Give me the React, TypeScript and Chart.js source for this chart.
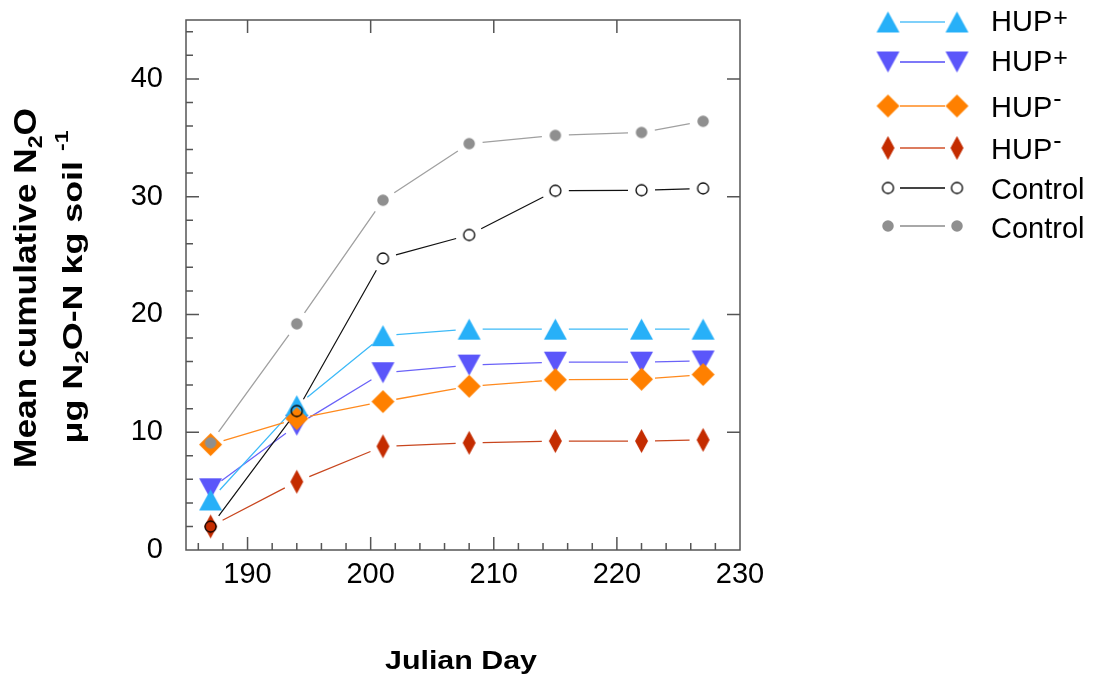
import React, { useEffect, useRef } from 'react';
import { Chart, registerables } from 'chart.js';

Chart.register(...registerables);

// ---------- data ----------
const days = [187, 194, 201, 208, 215, 222, 227];
const hupPlusUp = [4.25, 12.25, 18.2, 18.75, 18.75, 18.75, 18.75];
const hupPlusDown = [5.2, 10.6, 15.05, 15.7, 15.95, 15.95, 16.05];
const hupMinusOrange = [8.95, 11.15, 12.6, 13.9, 14.45, 14.5, 14.9];
const hupMinusRed = [2.0, 5.8, 8.8, 9.1, 9.25, 9.25, 9.35];
const controlOpen = [1.98, 11.8, 24.75, 26.75, 30.5, 30.55, 30.7];
const controlGray = [9.1, 19.2, 29.7, 34.5, 35.2, 35.45, 36.4];

const xTickValues = [190, 200, 210, 220, 230];
const yTickValues = [0, 10, 20, 30, 40];

const legendTexts = ['HUP', 'HUP', 'HUP', 'HUP', 'Control', 'Control'];
const legendSups = ['+', '+', '-', '-', '', ''];

const FONT = '"Liberation Sans", Arial, Helvetica, sans-serif';

type Shape = 'triUp' | 'triDown' | 'diamond' | 'circle';

function makeMarker(shape: Shape, w: number, h: number, fill: string | null, stroke: string | null, lw = 1): HTMLCanvasElement {
  const pad = 3;
  const c = document.createElement('canvas');
  c.width = Math.ceil(w + pad * 2);
  c.height = Math.ceil(h + pad * 2);
  const ctx = c.getContext('2d')!;
  const cx = c.width / 2;
  const cy = c.height / 2;
  ctx.beginPath();
  if (shape === 'triUp') {
    ctx.moveTo(cx, cy - h / 2);
    ctx.lineTo(cx + w / 2, cy + h / 2);
    ctx.lineTo(cx - w / 2, cy + h / 2);
    ctx.closePath();
  } else if (shape === 'triDown') {
    ctx.moveTo(cx - w / 2, cy - h / 2);
    ctx.lineTo(cx + w / 2, cy - h / 2);
    ctx.lineTo(cx, cy + h / 2);
    ctx.closePath();
  } else if (shape === 'diamond') {
    ctx.moveTo(cx, cy - h / 2);
    ctx.lineTo(cx + w / 2, cy);
    ctx.lineTo(cx, cy + h / 2);
    ctx.lineTo(cx - w / 2, cy);
    ctx.closePath();
  } else {
    ctx.arc(cx, cy, w / 2, 0, Math.PI * 2);
  }
  if (fill) {
    ctx.fillStyle = fill;
    ctx.fill();
  }
  if (stroke) {
    ctx.strokeStyle = stroke;
    ctx.lineWidth = lw;
    ctx.stroke();
  }
  return c;
}

interface SeriesStyle {
  values: number[];
  marker: HTMLCanvasElement;
  lineColor: string;
  lineWidth: number;
  order: number;
  legendLine: string;
  legendLineWidth: number;
}

type Part = { text: string; size: number; dy?: number; bold?: boolean };

function drawRich(ctx: CanvasRenderingContext2D, parts: Part[], targetLen: number | null) {
  let natural = 0;
  for (const p of parts) {
    ctx.font = `${p.bold ? 'bold ' : ''}${p.size}px ${FONT}`;
    natural += ctx.measureText(p.text).width;
  }
  const sx = targetLen ? targetLen / natural : 1;
  ctx.scale(sx, 1);
  let x = -natural / 2;
  ctx.textBaseline = 'alphabetic';
  ctx.textAlign = 'left';
  for (const p of parts) {
    ctx.font = `${p.bold ? 'bold ' : ''}${p.size}px ${FONT}`;
    ctx.fillText(p.text, x, p.dy || 0);
    x += ctx.measureText(p.text).width;
  }
}

export default function App() {
  const ref = useRef<HTMLCanvasElement | null>(null);

  useEffect(() => {
    document.body.style.margin = '0';
    const canvas = ref.current;
    if (!canvas) return;

    const series: SeriesStyle[] = [
      {
        values: hupPlusUp,
        marker: makeMarker('triUp', 23, 21, '#27B0F8', null),
        lineColor: '#3DBAF8', lineWidth: 1.3, order: 4,
        legendLine: '#7FD0FA', legendLineWidth: 2,
      },
      {
        values: hupPlusDown,
        marker: makeMarker('triDown', 23, 21, '#5B56FA', null),
        lineColor: '#6A62F8', lineWidth: 1.3, order: 5,
        legendLine: '#7E78F8', legendLineWidth: 2,
      },
      {
        values: hupMinusOrange,
        marker: makeMarker('diamond', 23, 23, '#FF8000', null),
        lineColor: '#FF8A1E', lineWidth: 1.3, order: 2,
        legendLine: '#FF8A1E', legendLineWidth: 1.6,
      },
      {
        values: hupMinusRed,
        marker: makeMarker('diamond', 13, 24, '#C42C00', null),
        lineColor: '#C8461E', lineWidth: 1.3, order: 3,
        legendLine: '#D0502A', legendLineWidth: 1.6,
      },
      {
        values: controlOpen,
        marker: makeMarker('circle', 11, 11, null, '#000000', 1.3),
        lineColor: '#111111', lineWidth: 1.2, order: 0,
        legendLine: '#444444', legendLineWidth: 2,
      },
      {
        values: controlGray,
        marker: makeMarker('circle', 11.5, 11.5, '#8F8F8F', null),
        lineColor: '#A0A0A0', lineWidth: 1.3, order: 1,
        legendLine: '#A8A8A8', legendLineWidth: 2,
      },
    ];

    const GAP = 13.5;

    const gapLines = {
      id: 'gapLines',
      beforeDatasetDraw(chart: any, args: any) {
        const s = series[args.index];
        const pts = args.meta.data;
        const ctx = chart.ctx as CanvasRenderingContext2D;
        ctx.save();
        ctx.strokeStyle = s.lineColor;
        ctx.lineWidth = s.lineWidth;
        ctx.beginPath();
        for (let i = 0; i < pts.length - 1; i++) {
          const a = pts[i];
          const b = pts[i + 1];
          const dx = b.x - a.x;
          const dy = b.y - a.y;
          const len = Math.hypot(dx, dy);
          if (len <= 2 * GAP) continue;
          const ux = dx / len;
          const uy = dy / len;
          ctx.moveTo(a.x + ux * GAP, a.y + uy * GAP);
          ctx.lineTo(b.x - ux * GAP, b.y - uy * GAP);
        }
        ctx.stroke();
        ctx.restore();
      },
    };

    const frame = {
      id: 'frame',
      beforeDatasetsDraw(chart: any) {
        const ctx = chart.ctx as CanvasRenderingContext2D;
        const { left, right, top, bottom } = chart.chartArea;
        const xs = chart.scales.x;
        const ys = chart.scales.y;
        ctx.save();
        ctx.strokeStyle = '#555555';
        ctx.lineWidth = 1.5;
        ctx.strokeRect(left, top, right - left, bottom - top);
        ctx.beginPath();
        for (let v = 2; v <= 44; v += 2) {
          const py = ys.getPixelForValue(v);
          const major = v % 10 === 0;
          ctx.moveTo(left, py);
          ctx.lineTo(left + (major ? 13 : 7), py);
          if (major) {
            ctx.moveTo(right, py);
            ctx.lineTo(right - 13, py);
          }
        }
        for (let v = 186; v < 230; v += 2) {
          const px = xs.getPixelForValue(v);
          const major = v % 10 === 0;
          ctx.moveTo(px, bottom);
          ctx.lineTo(px, bottom - (major ? 13 : 7));
          if (major) {
            ctx.moveTo(px, top);
            ctx.lineTo(px, top + 13);
          }
        }
        ctx.stroke();
        ctx.restore();
      },
    };

    const legendRows = [22, 62, 106, 148, 188, 226];
    const legendBaselines = [31, 71, 116.5, 158.5, 198.5, 237.5];

    const decorations = {
      id: 'decorations',
      afterDraw(chart: any) {
        const ctx = chart.ctx as CanvasRenderingContext2D;
        ctx.save();
        ctx.fillStyle = '#000';

        // y-axis title, line 1
        ctx.save();
        ctx.translate(36, 288);
        ctx.rotate(-Math.PI / 2);
        drawRich(ctx, [
          { text: 'Mean cumulative N', size: 32, bold: true },
          { text: '2', size: 21, bold: true, dy: 6 },
          { text: 'O', size: 32, bold: true },
        ], 360);
        ctx.restore();

        // y-axis title, line 2
        ctx.save();
        ctx.translate(82, 287);
        ctx.rotate(-Math.PI / 2);
        drawRich(ctx, [
          { text: 'μg N', size: 28, bold: true },
          { text: '2', size: 19, bold: true, dy: 6 },
          { text: 'O-N kg soil ', size: 28, bold: true },
          { text: '-1', size: 18, bold: true, dy: -14 },
        ], 313);
        ctx.restore();

        // x-axis title
        ctx.save();
        ctx.translate(461, 669);
        drawRich(ctx, [{ text: 'Julian Day', size: 25, bold: true }], 152);
        ctx.restore();

        // legend
        for (let i = 0; i < series.length; i++) {
          const s = series[i];
          const cy = legendRows[i];
          ctx.strokeStyle = s.legendLine;
          ctx.lineWidth = s.legendLineWidth;
          ctx.beginPath();
          ctx.moveTo(900, cy);
          ctx.lineTo(945, cy);
          ctx.stroke();
          const m = s.marker;
          ctx.drawImage(m, 888 - m.width / 2, cy - m.height / 2);
          ctx.drawImage(m, 957 - m.width / 2, cy - m.height / 2);
          ctx.fillStyle = '#000';
          ctx.textAlign = 'left';
          ctx.textBaseline = 'alphabetic';
          ctx.font = `29px ${FONT}`;
          const base = legendBaselines[i];
          ctx.fillText(legendTexts[i], 991, base);
          const w = ctx.measureText(legendTexts[i]).width;
          if (legendSups[i]) {
            ctx.font = `25px ${FONT}`;
            const raise = legendSups[i] === '+' ? 5 : 10;
            ctx.fillText(legendSups[i], 991 + w + 1, base - raise);
          }
        }
        ctx.restore();
      },
    };

    const chart = new Chart(canvas, {
      type: 'scatter',
      data: {
        datasets: series.map((s, i) => ({
          label: legendTexts[i],
          data: days.map((d, j) => ({ x: d, y: s.values[j] })),
          showLine: false,
          pointStyle: s.marker,
          pointRadius: 8,
          order: s.order,
        })),
      },
      options: {
        responsive: false,
        animation: false,
        events: [],
        layout: { padding: { left: 0, right: 355, top: 20, bottom: 0 } },
        plugins: {
          legend: { display: false },
          tooltip: { enabled: false },
          title: { display: false },
        },
        scales: {
          x: {
            type: 'linear',
            min: 185,
            max: 230,
            afterBuildTicks: (scale: any) => {
              scale.ticks = xTickValues.map((v) => ({ value: v }));
            },
            afterFit: (scale: any) => {
              scale.height = 129;
              scale.paddingLeft = 0;
              scale.paddingRight = 0;
            },
            grid: { display: false, drawTicks: false },
            border: { display: false },
            ticks: {
              color: '#000',
              padding: 8,
              maxRotation: 0,
              autoSkip: false,
              font: { family: FONT, size: 29 },
            },
          },
          y: {
            type: 'linear',
            min: 0,
            max: 45,
            afterBuildTicks: (scale: any) => {
              scale.ticks = yTickValues.map((v) => ({ value: v }));
            },
            afterFit: (scale: any) => {
              scale.width = 186;
              scale.paddingTop = 0;
              scale.paddingBottom = 0;
            },
            grid: { display: false, drawTicks: false },
            border: { display: false },
            ticks: {
              color: '#000',
              padding: 23,
              autoSkip: false,
              font: { family: FONT, size: 29 },
            },
          },
        },
      },
      plugins: [frame, gapLines, decorations],
    } as any);

    return () => chart.destroy();
  }, []);

  return (
    <div style={{ width: 1095, height: 679 }}>
      <canvas ref={ref} width={1095} height={679} style={{ display: 'block', width: 1095, height: 679 }} />
    </div>
  );
}
